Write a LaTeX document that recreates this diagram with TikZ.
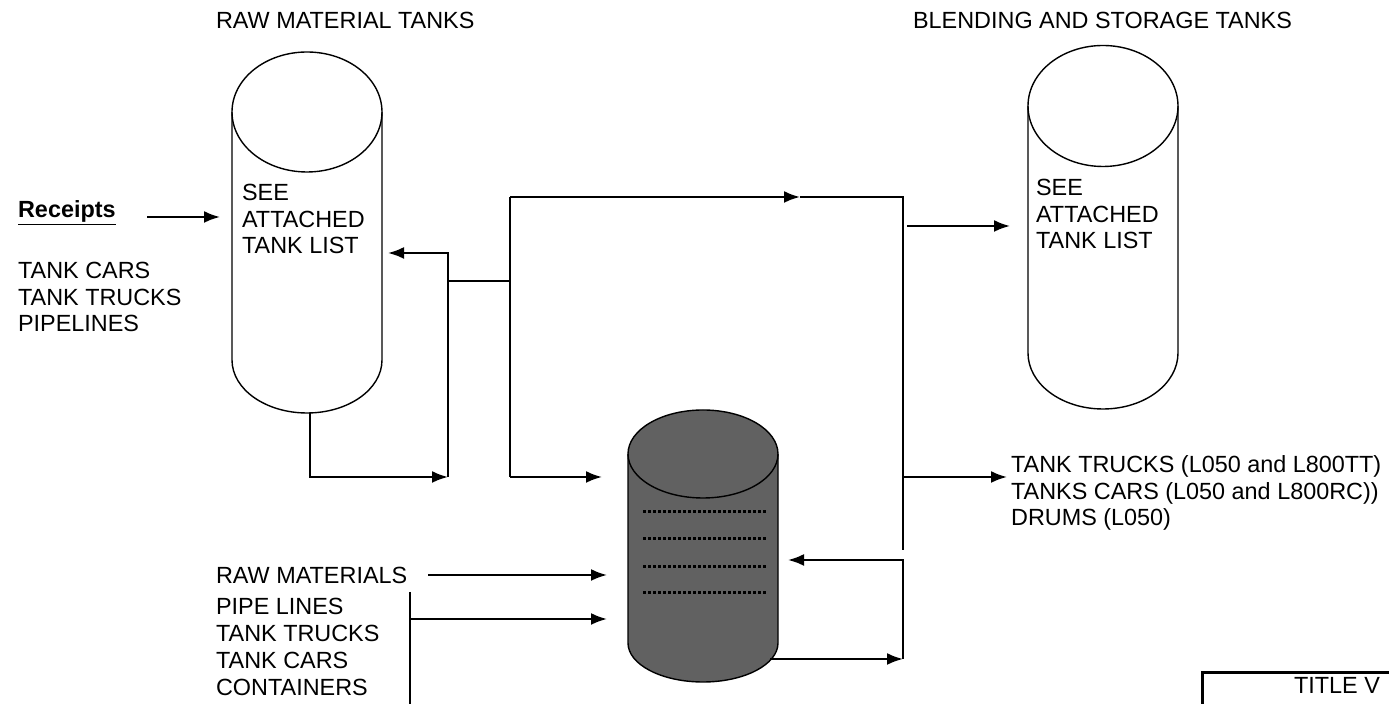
\documentclass[tikz,border=0pt]{standalone}
\usepackage{fontspec}
\setmainfont{Liberation Sans}
\usetikzlibrary{arrows.meta}
\usetikzlibrary{calc}

\begin{document}
\begin{tikzpicture}[x = 0.5pt, y = -0.5pt, line width = 1.1pt,
    every node/.style = {inner sep = 0pt, anchor = west, align = left,
      font = \fontsize{11.7}{13.4}\selectfont},
    tank/.style = {line width = 0.7pt},
    flow/.style = {line width = 1.1pt, -{Latex[length = 8pt, width = 6pt]}}]
  \useasboundingbox (0, 0) rectangle (1389, 704);

  % headings
  \node (rawhead) at (215, 20) {RAW MATERIAL TANKS};
  \node (blendhead) at (912, 20) {BLENDING AND STORAGE TANKS};

  % raw material tank
  \draw[tank] (307, 112) ellipse [x radius = 37.5pt, y radius = 30pt];
  \draw[tank] (232, 112) -- (232, 360) %
    arc [start angle = 180, end angle = 360, x radius = 37.5pt, y radius = 26.5pt] %
    -- (382, 112);
  \node (rawlist) at (241, 219) {SEE\\ATTACHED\\TANK LIST};

  % blending tank
  \draw[tank] (1103, 106) ellipse [x radius = 37.5pt, y radius = 30.25pt];
  \draw[tank] (1028, 106) -- (1028, 353) %
    arc [start angle = 180, end angle = 360, x radius = 37.5pt, y radius = 28pt] %
    -- (1178, 106);
  \node (blendlist) at (1035, 214) {SEE\\ATTACHED\\TANK LIST};

  % shaded tank
  \filldraw[tank, fill = black!62] (628, 454) %
    arc [start angle = 180, end angle = 0, x radius = 37.5pt, y radius = 22pt] %
    -- (778, 643) %
    arc [start angle = 0, end angle = -180, x radius = 37.5pt, y radius = 19.5pt] %
    -- cycle;
  \draw[tank] (628, 454) %
    arc [start angle = 180, end angle = 360, x radius = 37.5pt, y radius = 22pt];
  \foreach \y in {512, 539, 567, 593} {\draw[line width = 1.5pt, dash pattern = on 1.5pt off 1pt] (643, \y) -- (767, \y);}

  % texts
  \node (receipts) at (17, 213) {\bfseries\underline{Receipts}};
  \node (carriers) at (17, 297) {TANK CARS\\TANK TRUCKS\\PIPELINES};
  \node (rawmat) at (215, 575) {RAW MATERIALS};
  \node (sources) at (215, 647) {PIPE LINES\\TANK TRUCKS\\TANK CARS\\CONTAINERS};
  \node (shipping) at (1010, 493) {TANK TRUCKS (L050 and L800TT)\\TANKS CARS (L050 and L800RC))\\DRUMS (L050)};
  \node[anchor = east] (title) at (1381, 685) {TITLE V};

  % pipe corners
  \coordinate (rcptA) at (147, 217);
  \coordinate (rcptB) at (220, 217);
  \coordinate (rawout) at (310, 413);
  \coordinate (rawdown) at (310, 477);
  \coordinate (retbot) at (448, 477);
  \coordinate (rettop) at (448, 253);
  \coordinate (rawin) at (388, 253);
  \coordinate (tee) at (448, 281);
  \coordinate (mainj) at (510, 281);
  \coordinate (maintop) at (510, 197);
  \coordinate (mainbot) at (510, 477);
  \coordinate (topmid) at (800, 197);
  \coordinate (rightop) at (903, 197);
  \coordinate (rightbot) at (903, 550);
  \coordinate (blendin) at (1010, 226);
  \coordinate (shipin) at (1007, 477);
  \coordinate (shadein) at (602, 477);
  \coordinate (rawmatA) at (428, 575);
  \coordinate (rawmatB) at (607, 575);
  \coordinate (bartop) at (410, 592);
  \coordinate (barbot) at (410, 704);
  \coordinate (barout) at (607, 619);
  \coordinate (shadeout) at (770, 659);
  \coordinate (loopbot) at (903, 659);
  \coordinate (looptop) at (903, 560);
  \coordinate (shadeback) at (788, 560);

  % connectors
  \draw[flow] (rcptA) -- (rcptB);
  \draw[flow] (rawout) -- (rawdown) -- (retbot);
  \draw[flow] (retbot) -- (rettop) -- (rawin);
  \draw (tee) -- (mainj);
  \draw (maintop) -- (mainbot);
  \draw[flow] (maintop) -- (topmid);
  \draw (topmid) -- (rightop) -- (rightbot);
  \draw[flow] (rightop |- blendin) ++(4, 0) -- (blendin);
  \draw[flow] (rightop |- shipin) -- (shipin);
  \draw[flow] (mainbot) -- (shadein);
  \draw[flow] (rawmatA) -- (rawmatB);
  \draw (bartop) -- (barbot);
  \draw[flow] (bartop |- barout) -- (barout);
  \draw[flow] (shadeout) -- (loopbot);
  \draw[flow] (loopbot) -- (looptop) -- (shadeback);

  % title box
  \draw[line width = 1.5pt] (1202, 704) -- (1202, 673) -- (1389, 673);
\end{tikzpicture}
\end{document}
